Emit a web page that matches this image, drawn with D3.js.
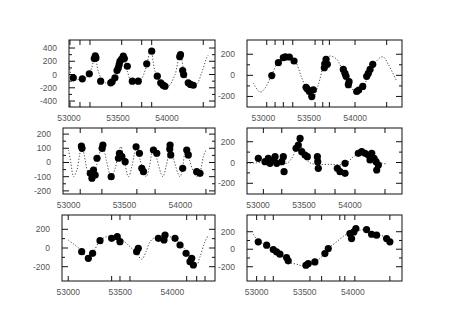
<!DOCTYPE html>
<html>
<head>
<meta charset="utf-8">
<script src="https://cdn.jsdelivr.net/npm/d3@7"></script>
<style>body { margin: 0; background: #fff; }</style>
</head>
<body>
<script>
// observed velocities [MJD, v] and fitted orbit curves for each panel
var obs1 = [[53044,-50],[53136,-65],[53207,10],[53258,240],[53268,280],[53275,250],[53323,-100],
            [53426,-125],[53440,-110],[53469,-50],[53490,60],[53503,100],[53512,150],[53520,200],
            [53535,230],[53554,277],[53565,240],[53595,125],[53646,-100],[53707,-100],[53793,162],
            [53844,353],[53901,-25],[53936,-125],[53960,-160],[53980,-177],[54130,270],[54138,300],
            [54160,60],[54170,0],[54217,-125],[54240,-150],[54268,-162]];
var fit1 = [[53000,177],[53028,-26],[53079,-76],[53181,-41],[53232,102],[53265,292],[53299,50],
            [53350,-102],[53418,-141],[53487,0],[53548,292],[53595,50],[53640,-102],[53724,-91],
            [53786,102],[53834,379],[53878,50],[53946,-152],[54013,-177],[54082,0],[54133,303],
            [54184,0],[54252,-152],[54303,-141],[54354,26],[54405,253],[54421,292]];

var obs2 = [[53092,-2],[53164,120],[53218,168],[53240,175],[53284,174],[53335,136],[53466,-114],
            [53480,-130],[53502,-153],[53528,-201],[53545,-137],[53665,72],[53670,110],[53684,152],
            [53698,104],[53872,56],[53890,20],[53902,-9],[53927,-88],[53935,-60],[54018,-153],
            [54040,-140],[54084,-105],[54127,-9],[54145,20],[54164,56],[54193,104]];
var fit2 = [[52891,-72],[52964,-159],[53019,-121],[53092,8],[53182,152],[53273,183],[53346,136],
            [53419,-24],[53491,-168],[53539,-217],[53600,-89],[53673,135],[53727,183],[53800,152],
            [53890,-9],[53964,-121],[54019,-169],[54091,-105],[54182,72],[54273,168],[54309,174],
            [54363,104],[54455,-57]];

var obs3 = [[53120,100],[53115,115],[53194,-76],[53209,-111],[53223,-53],[53238,-88],[53254,30],
            [53307,123],[53300,100],[53381,-100],[53446,30],[53455,65],[53477,41],[53506,6],
            [53604,111],[53634,65],[53655,-41],[53670,-65],[53759,88],[53789,65],[53908,123],
            [53905,95],[53914,53],[54021,-41],[54057,88],[54071,53],[54146,-65],[54176,-76]];
var fit3 = [[53000,88],[53021,-6],[53045,-100],[53075,-53],[53098,53],[53119,116],[53140,53],
            [53170,-65],[53200,-111],[53238,-53],[53277,65],[53307,123],[53337,18],[53381,-100],
            [53417,-41],[53441,53],[53468,111],[53497,18],[53536,-100],[53566,-29],[53590,65],
            [53610,116],[53640,18],[53694,-100],[53723,-29],[53744,65],[53765,111],[53789,29],
            [53843,-100],[53872,-29],[53896,65],[53914,123],[53938,29],[53997,-100],[54021,-29],
            [54039,65],[54057,107],[54081,18],[54146,-100],[54176,-65],[54206,41],[54229,88]];

var obs4 = [[53003,40],[53076,8],[53112,40],[53130,-8],[53166,24],[53185,56],[53203,-8],[53258,8],
            [53275,56],[53283,-88],[53413,136],[53438,168],[53457,232],[53475,104],[53511,72],
            [53536,56],[53645,56],[53649,8],[53655,-56],[53862,-56],[53891,-88],[53946,-104],
            [53946,-8],[54090,88],[54127,104],[54163,88],[54199,72],[54217,24],[54236,88],
            [54261,40],[54283,8],[54290,-72],[54308,-24]];
var fit4 = [[52877,-8],[52986,-2],[53094,8],[53203,8],[53312,-8],[53366,40],[53420,136],
            [53457,168],[53500,88],[53547,8],[53601,-14],[53783,-18],[53928,-18],[53982,8],
            [54036,56],[54109,88],[54181,82],[54254,40],[54326,-2],[54399,-14]];

var obs5 = [[53129,-39],[53193,-110],[53234,-57],[53305,78],[53417,103],[53471,121],[53497,68],
            [53657,-39],[53673,-4],[53866,103],[53930,139],[53920,86],[54026,103],[54074,32],
            [54132,-57],[54186,-110],[54202,-182],[54170,-146]];
var fit5 = [[53000,86],[53064,32],[53129,-29],[53177,-100],[53241,-39],[53305,78],[53369,121],
            [53433,128],[53513,93],[53593,14],[53657,-57],[53705,-121],[53747,-39],[53786,68],
            [53834,114],[53914,132],[53994,114],[54058,68],[54138,-39],[54202,-146],[54234,-182],
            [54266,-93],[54314,68],[54346,139]];

var obs6 = [[53017,84],[53104,46],[53173,-4],[53207,-30],[53242,-57],[53311,-95],[53328,-133],
            [53512,-183],[53536,-164],[53605,-145],[53709,-50],[53744,8],[53969,179],[53986,122],
            [54010,198],[54031,236],[54142,225],[54194,171],[54246,160],[54350,122],[54384,84]];
var fit6 = [[52965,171],[53017,95],[53104,46],[53173,-4],[53242,-57],[53328,-145],[53415,-171],
            [53502,-194],[53588,-156],[53675,-88],[53744,8],[53830,84],[53917,160],[53986,198],
            [54073,217],[54142,225],[54211,187],[54315,149],[54419,57]];

// axis domains, labels and tick marks
var xDomains = [[53000,54490],[52822,54512],[52950,54310],[52880,54565],[52940,54410],[52900,54510]];
var yDomains = [[-490,521],[-300,335],[-222,243],[-303,332],[-353,353],[-363,391]];
var xLabels = [53000, 53500, 54000];
var yLabels = [[400,200,0,-200,-400],[200,0,-200],[200,100,0,-100,-200],
               [200,0,-200],[200,0,-200],[200,0,-200]];
var xTicks = [[53010,53112,53214,53538,53742,53844,54370],
              [53037,53128,53218,53321,53564,53648,53720,54000,54345],
              [53104,53298,53611,53774,54229],
              [53058,53258,53620,53837,54054,54380],
              [53000,53417,53497,53593,54138,54234,54314],
              [53000,53086,53173,53554,53675,53864,53916,54020,54384]];

var obs = [obs1, obs2, obs3, obs4, obs5, obs6];
var fits = [fit1, fit2, fit3, fit4, fit5, fit6];

// panel frames in page pixels: left, top, right, bottom
var boxes = [[69,40,215,107],[247,40,402,107],
             [63,128,215,194],[247,128,402,194],
             [62,215,215,281],[247,215,402,281]];

var w = 471, h = 333;
var svg = d3.select('body').append('svg')
            .attr('width', w)
            .attr('height', h)
            .style('font-family', 'Liberation Sans, Arial, sans-serif');

boxes.forEach(function(b, i) {
  var x = d3.scaleLinear().domain(xDomains[i]).range([b[0], b[2]]);
  var y = d3.scaleLinear().domain(yDomains[i]).range([b[3], b[1]]);
  var g = svg.append('g');

  // frame
  g.append('rect')
   .attr('x', b[0]).attr('y', b[1])
   .attr('width', b[2] - b[0]).attr('height', b[3] - b[1])
   .attr('fill', 'none').attr('stroke', '#111').attr('stroke-width', 1);

  // x ticks, top and bottom, pointing inward
  xTicks[i].forEach(function(t) {
    g.append('line').attr('x1', x(t)).attr('x2', x(t))
     .attr('y1', b[3]).attr('y2', b[3] - 5)
     .attr('stroke', '#111');
    g.append('line').attr('x1', x(t)).attr('x2', x(t))
     .attr('y1', b[1]).attr('y2', b[1] + 5)
     .attr('stroke', '#111');
  });

  // y ticks, left and right
  var step = Math.abs(yLabels[i][0] - yLabels[i][1]);
  var minor = d3.range(yLabels[i][yLabels[i].length - 1], yLabels[i][0] + 1, step / 2);
  minor.forEach(function(v) {
    var len = yLabels[i].indexOf(v) >= 0 ? 6 : 3;
    g.append('line').attr('x1', b[0]).attr('x2', b[0] + len)
     .attr('y1', y(v)).attr('y2', y(v)).attr('stroke', '#111');
    g.append('line').attr('x1', b[2]).attr('x2', b[2] - len)
     .attr('y1', y(v)).attr('y2', y(v)).attr('stroke', '#111');
  });

  g.selectAll('text.yl')
   .data(yLabels[i])
   .enter()
   .append('text')
   .attr('class', 'yl')
   .attr('x', b[0] - 12)
   .attr('y', function(d) { return y(d) + 3; })
   .attr('text-anchor', 'end')
   .attr('font-size', '8.5px')
   .attr('fill', '#555')
   .text(function(d) { return d; });

  g.selectAll('text.xl')
   .data(xLabels)
   .enter()
   .append('text')
   .attr('class', 'xl')
   .attr('x', function(d) { return x(d); })
   .attr('y', b[3] + 14)
   .attr('text-anchor', 'middle')
   .attr('font-size', '8.5px')
   .attr('fill', '#555')
   .text(function(d) { return d; });

  // fitted curve, dotted
  var line = d3.line()
               .x(function(d) { return x(d[0]); })
               .y(function(d) { return y(d[1]); })
               .curve(d3.curveCatmullRom);
  g.append('path')
   .datum(fits[i])
   .attr('d', line)
   .attr('fill', 'none')
   .attr('stroke', '#333')
   .attr('stroke-width', 0.9)
   .attr('stroke-dasharray', '1.2,1.8');

  // observations
  g.selectAll('circle')
   .data(obs[i])
   .enter()
   .append('circle')
   .attr('cx', function(d) { return x(d[0]); })
   .attr('cy', function(d) { return y(d[1]); })
   .attr('r', 3.6)
   .attr('fill', '#000');
});
</script>
</body>
</html>
